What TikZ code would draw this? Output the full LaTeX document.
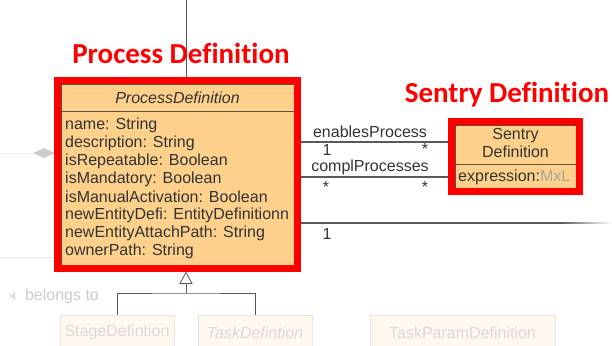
\documentclass[tikz,border=0pt]{standalone}
\usepackage{fontspec}
\setmainfont[Ligatures=NoCommon]{Liberation Sans}
\newfontfamily\titlefont[Ligatures=NoCommon]{Carlito}
\usetikzlibrary{positioning,fit,calc}

\definecolor{umlfill}{HTML}{FDD08C}
\definecolor{umlline}{HTML}{5A5040}
\definecolor{hilite}{HTML}{FF0000}
\definecolor{assocgray}{HTML}{595959}

\tikzset{
  classbox/.style={draw=umlline, fill=umlfill, line width=0.8pt, inner sep=0pt},
  redframe/.style={draw=hilite, line width=7pt, inner sep=3.5pt},
  assoc/.style={draw=assocgray, line width=1.2pt},
  umltext/.style={font=\fontsize{16}{18}\selectfont, text=black!80, inner sep=0pt},
  umlitalic/.style={font=\fontsize{16}{18}\selectfont\itshape, text=black!80, inner sep=0pt},
  bigtitle/.style={font=\titlefont\bfseries\fontsize{29}{32}\selectfont, text=hilite, inner sep=0pt},
  fadedbox/.style={draw=gray!20, fill=umlfill!15, line width=0.8pt, text=gray!30,
    font=\fontsize{16}{18}\selectfont, inner sep=0pt}
}

\begin{document}
\begin{tikzpicture}[x=1pt, y=-1pt, >=stealth]
    \useasboundingbox (0,0) rectangle (612,345);
    \clip (0,0) rectangle (612,345);

    % faint background bits
    \coordinate (topEnd) at (186,0);
    \draw[gray!10, line width=0.8pt] (0,153) -- (33,153);
    \fill[gray!40] (33,153) -- (44,148) -- (55,153) -- (44,158) -- cycle;
    \draw[gray!20, line width=0.8pt] (0,257) -- (54,257);
    \fill[gray!25] (9,296) -- (15,292) -- (15,300) -- cycle;
    \node[umltext, text=gray!40] (belongsLbl) at (62,296) {belongs to};

    % process definition class
    \node[classbox, minimum width=233pt, minimum height=181pt] (procDef) at (177.5,174.5) {};
    \node[umlitalic] (procName) at (177.5,98) {ProcessDefinition};
    \draw[umlline, line width=0.8pt] (procDef.west |- 0,111) -- (procDef.east |- 0,111);
    \foreach \txt [count=\i] in {name: String, description: String, isRepeatable: Boolean,
        isMandatory: Boolean, isManualActivation: Boolean, newEntityDefi: EntityDefinitionn,
        newEntityAttachPath: String, ownerPath: String} {
        \node[umltext, anchor=west] (attr\i) at (65,107+18*\i) {\txt};
    }
    \node[redframe, fit=(procDef)] (procFrame) {};
    \draw[gray!70!black, line width=0.6pt] (topEnd) -- (topEnd |- procFrame.north);
    \node[bigtitle] (procTitle) at (181,53) {Process Definition};

    % sentry definition class
    \node[classbox, minimum width=121pt, minimum height=63pt] (sentryDef) at (515.5,156.5) {};
    \node[umltext, align=center] (sentryName) at (515.5,143) {Sentry\\Definition};
    \draw[umlline, line width=0.8pt] (sentryDef.west |- 0,164) -- (sentryDef.east |- 0,164);
    \node[umltext, anchor=west] (sentryAttr) at (458,177) {expression:\textcolor{gray!70}{MxL}};
    \node[redframe, fit=(sentryDef)] (sentryFrame) {};
    \node[bigtitle] (sentryTitle) at (507,95) {Sentry Definition};

    % associations
    \draw[assoc] (procFrame.east |- 0,142) -- (sentryFrame.west |- 0,142);
    \node[umltext] (enLbl) at (370,132) {enablesProcess};
    \node[umltext] (enMultA) at (327,150) {1};
    \node[umltext] (enMultB) at (425,149) {*};

    \draw[assoc] (procFrame.east |- 0,177) -- (sentryFrame.west |- 0,177);
    \node[umltext] (cpLbl) at (370,167) {complProcesses};
    \node[umltext] (cpMultA) at (326,187) {*};
    \node[umltext] (cpMultB) at (425,187) {*};

    \coordinate (offRight) at (560,223);
    \draw[assoc] (procFrame.east |- offRight) -- (offRight);
    \shade[left color=assocgray, right color=white] (560,222.4) rectangle (612,223.6);
    \node[umltext] (thirdMult) at (327,234) {1};

    % generalization
    \node[fadedbox, minimum width=114pt, minimum height=34pt, anchor=north] (stageDef) at (117,315) {StageDefintion};
    \node[fadedbox, minimum width=114pt, minimum height=34pt, anchor=north,
        font=\fontsize{16}{18}\selectfont\itshape] (taskDef) at (255,315) {TaskDefintion};
    \node[fadedbox, minimum width=185pt, minimum height=34pt, anchor=north] (paramDef) at (462.5,315) {TaskParamDefinition};
    \coordinate (genTip) at (procFrame.south -| topEnd);
    \coordinate (genJoin) at (186,293);
    \draw[gray!70!black, line width=0.8pt] (genJoin) -- ++(0,-10);
    \draw[gray!70!black, line width=0.8pt, fill=white] (genTip) -- ++(-6,11) -- ++(12,0) -- cycle;
    \draw[gray!70!black, line width=0.8pt] (stageDef.north) |- (genJoin) -| (taskDef.north);
\end{tikzpicture}
\end{document}
